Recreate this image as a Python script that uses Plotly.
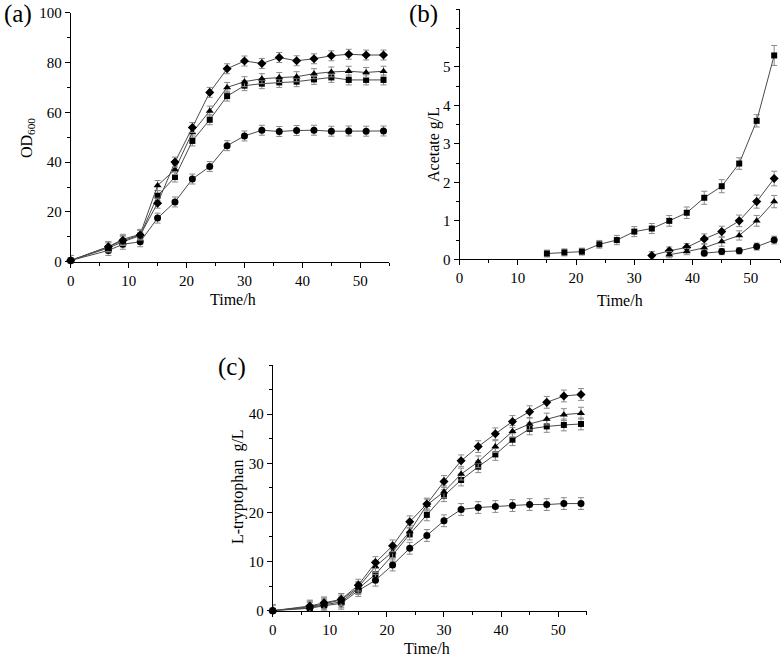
import plotly.graph_objects as go

# ---------------- data ----------------
t_full = [0, 6.5, 9, 12, 15, 18, 21, 24, 27, 30, 33, 36, 39, 42, 45, 48, 51, 54]

# (a) OD600
od_square = [0.5, 5.5, 8, 10.5, 26.5, 34, 48.5, 57, 66.5, 70.7, 71.5, 72, 72.3, 73.2, 74, 73, 73, 73]
od_circle = [0.5, 4.5, 7, 8, 17.5, 24, 33.2, 38.2, 46.6, 50.5, 52.8, 52.3, 52.7, 52.8, 52.4, 52.5, 52.4, 52.5]
od_triangle = [0.5, 6, 9, 11, 30.6, 37, 51.9, 60.5, 70, 72.3, 73.5, 74, 74.3, 75.5, 76.2, 76.5, 76, 76.5]
od_diamond = [0.5, 6, 8.5, 10.7, 23.5, 40, 53.9, 68, 77.5, 80.6, 79.6, 82, 80.7, 81.5, 82.7, 83.3, 83, 83]
od_err = 2.0

# (b) Acetate g/L
t_sq_b = [15, 18, 21, 24, 27, 30, 33, 36, 39, 42, 45, 48, 51, 54]
ac_square = [0.15, 0.18, 0.2, 0.39, 0.5, 0.72, 0.8, 1.0, 1.21, 1.6, 1.9, 2.49, 3.6, 5.3]
ac_square_err = [0.09, 0.09, 0.09, 0.1, 0.12, 0.13, 0.13, 0.14, 0.15, 0.17, 0.17, 0.15, 0.16, 0.26]
t_di_b = [33, 36, 39, 42, 45, 48, 51, 54]
ac_diamond = [0.1, 0.22, 0.31, 0.53, 0.72, 1.0, 1.5, 2.1]
ac_diamond_err = [0.1, 0.1, 0.1, 0.13, 0.14, 0.15, 0.17, 0.19]
t_tr_b = [36, 39, 42, 45, 48, 51, 54]
ac_triangle = [0.12, 0.2, 0.3, 0.46, 0.62, 1.0, 1.5]
ac_triangle_err = [0.08, 0.08, 0.1, 0.12, 0.12, 0.14, 0.16]
t_ci_b = [42, 45, 48, 51, 54]
ac_circle = [0.16, 0.2, 0.22, 0.33, 0.5]
ac_circle_err = [0.07, 0.08, 0.08, 0.09, 0.1]

# (c) L-tryptophan g/L
tr_square = [0, 0.6, 1.2, 1.8, 4.5, 7.4, 11.3, 15.6, 19.5, 23.4, 26.6, 29.3, 31.8, 34.8, 37, 37.5, 37.8, 38]
tr_circle = [0, 0.5, 1.0, 1.5, 4.1, 6.2, 9.3, 12.7, 15.3, 18.3, 20.6, 21, 21.2, 21.4, 21.6, 21.6, 21.8, 21.8]
tr_triangle = [0, 0.8, 1.4, 2.2, 4.75, 9, 12, 16.1, 21.5, 24.2, 27.8, 30.3, 33.4, 36.5, 38, 39, 39.9, 40.2]
tr_diamond = [0, 0.95, 1.6, 2.3, 5.2, 9.8, 13.2, 18.1, 21.7, 26.3, 30.5, 33.4, 36, 38.5, 40.5, 42.4, 43.7, 44]
tr_err = 1.2

# ---------------- figure ----------------
W, H = 783, 659
FONT = "Liberation Serif, Times New Roman, serif"
LINE = dict(color="#4a4a4a", width=1)
MARKERS = {
    "square": dict(symbol="square", size=6),
    "circle": dict(symbol="circle", size=7),
    "triangle": dict(symbol="triangle-up", size=7),
    "diamond": dict(symbol="diamond", size=7),
}


def err(v):
    if isinstance(v, list):
        return dict(type="data", array=v, visible=True, color="#8a8a8a", thickness=1, width=3)
    return dict(type="constant", value=v, visible=True, color="#8a8a8a", thickness=1, width=3)


fig = go.Figure()


def add(x, y, e, kind, xa, ya):
    m = dict(MARKERS[kind])
    m["color"] = "black"
    fig.add_trace(go.Scatter(x=x, y=y, mode="lines+markers", line=LINE, marker=m,
                             error_y=err(e), xaxis=xa, yaxis=ya, showlegend=False,
                             cliponaxis=False))


# panel a
add(t_full, od_square, od_err, "square", "x", "y")
add(t_full, od_circle, od_err, "circle", "x", "y")
add(t_full, od_triangle, od_err, "triangle", "x", "y")
add(t_full, od_diamond, od_err, "diamond", "x", "y")
# panel b
add(t_sq_b, ac_square, ac_square_err, "square", "x2", "y2")
add(t_di_b, ac_diamond, ac_diamond_err, "diamond", "x2", "y2")
add(t_tr_b, ac_triangle, ac_triangle_err, "triangle", "x2", "y2")
add(t_ci_b, ac_circle, ac_circle_err, "circle", "x2", "y2")
# panel c
add(t_full, tr_square, tr_err, "square", "x3", "y3")
add(t_full, tr_circle, tr_err, "circle", "x3", "y3")
add(t_full, tr_triangle, tr_err, "triangle", "x3", "y3")
add(t_full, tr_diamond, tr_err, "diamond", "x3", "y3")


def px_x(p):
    return p / W


def px_y(p):
    return 1 - p / H


def axis_common():
    return dict(showline=True, linecolor="black", linewidth=1, ticks="outside", ticklen=5,
                tickcolor="black", tickwidth=1, showgrid=False, zeroline=False, automargin=False,
                tickfont=dict(family=FONT, size=15, color="black"), mirror=False)


def xaxis(dom, anchor):
    a = axis_common()
    a.update(domain=dom, anchor=anchor, range=[0, 55], tickvals=[0, 10, 20, 30, 40, 50],
             minor=dict(tickvals=[5, 15, 25, 35, 45, 55], ticks="outside", ticklen=3,
                        tickcolor="black", tickwidth=1))
    return a


def yaxis(dom, anchor, rng, tv, minor):
    a = axis_common()
    a.update(domain=dom, anchor=anchor, range=rng, tickvals=tv,
             minor=dict(tickvals=minor, ticks="outside", ticklen=3, tickcolor="black", tickwidth=1))
    return a


dom_a_x = [px_x(70.7), px_x(389.3)]
dom_a_y = [px_y(261.7), px_y(12.7)]
dom_b_x = [px_x(459.5), px_x(780)]
dom_b_y = [px_y(259.3), px_y(9.3)]
dom_c_x = [px_x(272.7), px_x(586.7)]
dom_c_y = [px_y(610.7), px_y(365)]

fig.update_layout(
    template="none",
    width=W, height=H, margin=dict(l=0, r=0, t=0, b=0, pad=0),
    paper_bgcolor="white", plot_bgcolor="white",
    font=dict(family=FONT, color="black"),
    xaxis=xaxis(dom_a_x, "y"),
    yaxis=yaxis(dom_a_y, "x", [0, 100], [0, 20, 40, 60, 80, 100], [10, 30, 50, 70, 90]),
    xaxis2=xaxis(dom_b_x, "y2"),
    yaxis2=yaxis(dom_b_y, "x2", [0, 6.5], [0, 1, 2, 3, 4, 5],
                 [0.5, 1.5, 2.5, 3.5, 4.5, 5.5, 6, 6.5]),
    xaxis3=xaxis(dom_c_x, "y3"),
    yaxis3=yaxis(dom_c_y, "x3", [0, 50], [0, 10, 20, 30, 40], [5, 15, 25, 35, 45, 50]),
)

ann = []


def text(x, y, s, size, angle=0):
    ann.append(dict(x=px_x(x), y=px_y(y), xref="paper", yref="paper", text=s, showarrow=False,
                    font=dict(family=FONT, size=size, color="black"), textangle=angle,
                    xanchor="center", yanchor="middle"))


text(18, 14, "(a)", 25)
text(423, 14, "(b)", 25)
text(232, 367, "(c)", 25)
text(233, 300, "Time/h", 16)
text(620, 301, "Time/h", 16)
text(427, 648, "Time/h", 16)
text(27, 138, "OD<sub>600</sub>", 16, -90)
text(434, 145, "Acetate g/L", 16, -90)
text(238, 487, "L-tryptophan  g/L", 16, -90)

fig.update_layout(annotations=ann)
fig.write_html("out.html", config={"displayModeBar": False},
               post_script="document.body.style.margin='0px';document.body.style.overflow='hidden';")
